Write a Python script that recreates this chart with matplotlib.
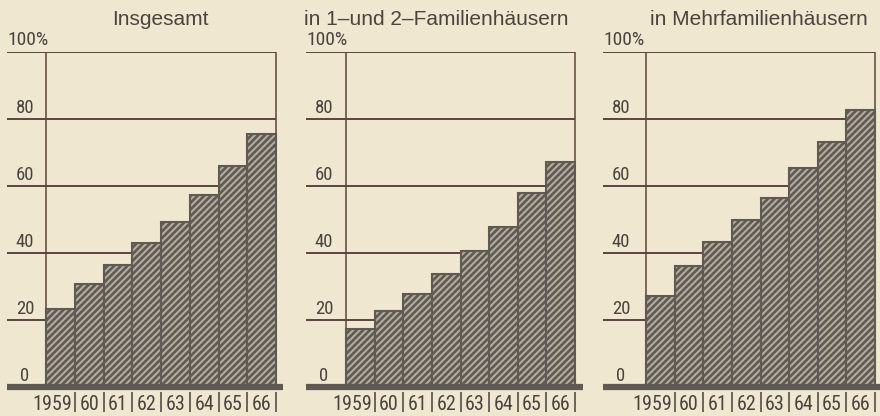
import os
import matplotlib
matplotlib.use('Agg')
import matplotlib.pyplot as plt
from matplotlib import font_manager as fm

# ---- data ----
years = ['1959', '60', '61', '62', '63', '64', '65', '66']
insgesamt = [23.3, 30.7, 36.4, 43.0, 49.3, 57.3, 66.0, 75.5]
ein_zwei_fam = [17.3, 22.7, 27.8, 33.7, 40.6, 47.8, 57.9, 67.2]
mehrfam = [27.2, 36.1, 43.3, 49.9, 56.4, 65.4, 73.1, 82.7]
titles = ['Insgesamt', 'in 1\u2013und 2\u2013Familienhäusern', 'in Mehrfamilienhäusern']
series = [insgesamt, ein_zwei_fam, mehrfam]
yticks = [0, 20, 40, 60, 80, 100]
ytick_labels = ['0', '20', '40', '60', '80', '100%']


def find_condensed():
    best = None
    for f in fm.fontManager.ttflist:
        base = os.path.basename(f.fname).lower()
        nm = f.name.lower()
        txt = base + ' ' + nm
        if ('narrow' in txt or 'condensed' in txt or f.stretch in ('condensed', 'semi-condensed')) \
                and 'bold' not in base and 'italic' not in base and 'oblique' not in base \
                and 'semi' not in base and 'extra' not in base and 'light' not in base \
                and 'mono' not in txt and 'serif' not in txt.replace('sans', ''):
            if 'liberation' in txt:
                score = 5
            elif 'roboto' in txt:
                score = 4
            elif 'dejavu' in txt:
                score = 3
            elif 'noto' in txt:
                score = 2
            else:
                score = 1
            if best is None or score > best[0]:
                best = (score, f.fname)
    return best[1] if best else None


cond_path = find_condensed()
if cond_path:
    NUMPROP = dict(fontproperties=fm.FontProperties(fname=cond_path))
    NUMSCALE = 1.0
else:
    NUMPROP = dict(family=['Liberation Sans', 'DejaVu Sans'])
    NUMSCALE = 0.82

# ---- style ----
BG = '#efe7cf'
BAR_FACE = '#b3ad9e'
BAR_DARK = '#5f5a54'
GRID = '#5e4340'
TEXT = '#4a4440'
TITLEFONT = ['Liberation Sans', 'DejaVu Sans']
plt.rcParams['hatch.linewidth'] = 1.9

W, H = 880, 416
Y0_PX, Y100_PX = 387, 52
# (grid start, axis x, right border x, baseline end, title centre) in pixels
panels = [
    (7, 46, 276, 283, 160),
    (306, 346, 575, 583, 436),
    (603, 646, 875, 880, 759),
]

fig = plt.figure(figsize=(W / 100, H / 100), dpi=100, facecolor=BG)
px_per_unit = (Y0_PX - Y100_PX) / 100.0


def num_text(ax, x, y, s, size, **kw):
    t = ax.text(x, y, s, color=TEXT, **kw, **NUMPROP)
    t.set_fontsize(size * NUMSCALE)
    return t


for (gs, axx, rx, be, tc), vals, title in zip(panels, series, titles):
    n = len(vals)
    u = (rx - axx) / n
    x0 = -0.5 - (axx - gs) / u
    x1 = n - 0.5 + (be - rx) / u
    ax = fig.add_axes([gs / W, (H - Y0_PX) / H, (be - gs) / W, (Y0_PX - Y100_PX) / H])
    ax.set_xlim(x0, x1)
    ax.set_ylim(0, 100)
    ax.axis('off')
    ax.patch.set_alpha(0)

    # horizontal rules
    ax.hlines(yticks[1:], x0, n - 0.5, color=GRID, lw=1.4, zorder=1)
    # vertical axis and right border
    ax.vlines([-0.5, n - 0.5], 0, 100, color=GRID, lw=1.1, zorder=1)

    # bars
    ax.bar(range(n), vals, width=1.0, facecolor=BAR_FACE, edgecolor=BAR_DARK,
           hatch='/////', linewidth=1.5, zorder=2)

    # thick baseline
    ax.plot([x0, x1], [0, 0], color=BAR_DARK, lw=4.5, solid_capstyle='butt',
            clip_on=False, zorder=4)

    # y labels sitting on the rules
    for v, lab in zip(yticks, ytick_labels):
        if lab.endswith('%'):
            num_text(ax, x0, v + 3 / px_per_unit, lab, 14, ha='left', va='bottom')
        else:
            num_text(ax, x0 + 18 / u, v + 2 / px_per_unit, lab, 13.5, ha='center', va='bottom')

    # year labels and separators
    sep_x = [i + 0.5 for i in range(n)]
    ax.vlines(sep_x, -1.5, -7.6, color=BAR_DARK, lw=1.3, clip_on=False)
    ylab = -18 / px_per_unit
    for i, yr in enumerate(years):
        if i == 0:
            num_text(ax, 0.5 - 3 / u, ylab, yr, 14.5, ha='right', va='center')
        else:
            num_text(ax, i, ylab, yr, 14.5, ha='center', va='center')

    fig.text(tc / W, (H - 25) / H, title, ha='center', va='baseline',
             fontsize=15, color=TEXT, family=TITLEFONT)

fig.savefig('out.png', dpi=100, facecolor=BG)
